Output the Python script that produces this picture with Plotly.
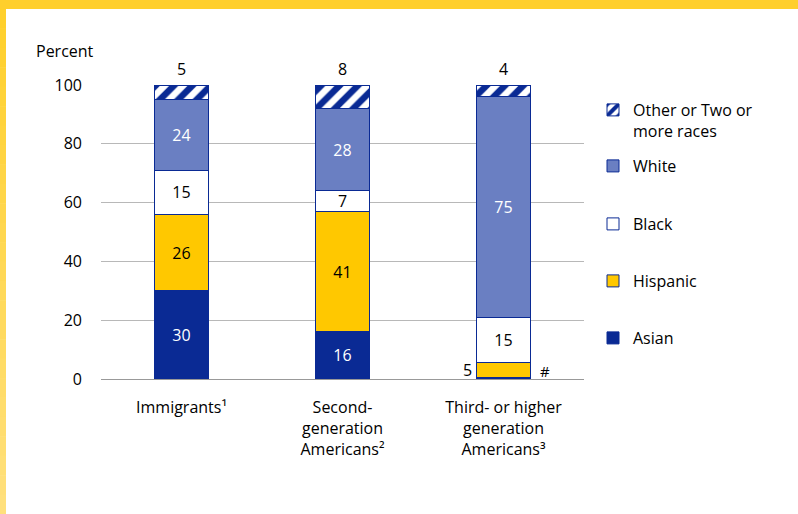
import plotly.graph_objects as go

# ---------------- data ----------------
category_keys = ["Immigrants", "Second", "Third"]
tick_labels = [
    "Immigrants¹",
    "Second-<br>generation<br>Americans²",
    "Third- or higher<br>generation<br>Americans³",
]
series_names = ["Asian", "Hispanic", "Black", "White", "Other or Two or<br>more races"]

asian = [30, 16, 0.4]
hispanic = [26, 41, 5.2]
black = [15, 7, 15.2]
white = [24, 28, 75.4]
other = [5, 8, 3.8]

asian_labels = ["30", "16", "#"]
hispanic_labels = ["26", "41", "5"]
black_labels = ["15", "7", "15"]
white_labels = ["24", "28", "75"]
other_labels = ["5", "8", "4"]

y_ticks = [0, 20, 40, 60, 80, 100]

# ---------------- style ----------------
FONT = "Open Sans"
FS = 16
NAVY = "#0A2A94"
GOLD = "#FFC800"
PERI = "#6A7FC2"
W, H = 798, 514
L, R, T, B = 101, 584, 85, 379


def px_x(p):
    return (p - L) / (R - L)


def px_y(p):
    return (B - p) / (B - T)


fig = go.Figure()

specs = [
    (asian, asian_labels, dict(color=NAVY), "white"),
    (hispanic, hispanic_labels, dict(color=GOLD), "black"),
    (black, black_labels, dict(color="white"), "black"),
    (white, white_labels, dict(color=PERI), "white"),
    (other, other_labels, dict(color="white",
                               pattern=dict(shape="/", fgcolor=NAVY, bgcolor="white",
                                            size=13, solidity=0.5, fillmode="replace")), "black"),
]

legend_ids = ["legend5", "legend4", "legend3", "legend2", "legend"]

for i, (vals, labs, mk, tcol) in enumerate(specs):
    # labels inside the bars except for the thin third-generation slices and the top caps
    positions = []
    for j in range(len(labs)):
        if i == 4 or (j == 2 and i in (0, 1)):
            positions.append("none")
        else:
            positions.append("inside")
    fig.add_trace(go.Bar(
        x=category_keys, y=vals, name=series_names[i],
        text=labs, textposition=positions, insidetextanchor="middle",
        textangle=0, textfont=dict(color=tcol, size=FS, family=FONT),
        marker=dict(line=dict(color=NAVY, width=1), **mk),
        legend=legend_ids[i], hoverinfo="name+y",
    ))

annotations = []
# labels above the bars (Other)
for j, k in enumerate(category_keys):
    annotations.append(dict(x=k, y=100, yanchor="bottom", yshift=3, text=other_labels[j],
                            showarrow=False, font=dict(size=FS, color="black", family=FONT)))
# third-generation thin slices
mid_h = asian[2] + hispanic[2] / 2
annotations.append(dict(x=category_keys[2], y=mid_h, xanchor="right", xshift=-30,
                        text=hispanic_labels[2], showarrow=False,
                        font=dict(size=FS, color="black", family=FONT)))
annotations.append(dict(x=category_keys[2], y=mid_h, xanchor="left", xshift=34, yshift=-1,
                        text=asian_labels[2], showarrow=False,
                        font=dict(size=FS - 1, color="black", family=FONT)))
# axis title
annotations.append(dict(xref="paper", yref="paper", x=px_x(34), y=px_y(51),
                        xanchor="left", yanchor="middle", text="Percent", showarrow=False,
                        font=dict(size=FS, color="black", family=FONT)))

# yellow frame
shapes = [dict(type="rect", xref="paper", yref="paper", x0=px_x(0), x1=px_x(W),
               y0=px_y(0), y1=px_y(9), fillcolor="#FFCF2C", line=dict(width=0), layer="above")]
n = 26
top_c = (0xFF, 0xD0, 0x2C)
bot_c = (0xFF, 0xE0, 0x7C)
for s in range(n):
    t = s / (n - 1)
    c = tuple(round(top_c[q] + (bot_c[q] - top_c[q]) * t) for q in range(3))
    y0 = 9 + (H - 9) * s / n
    y1 = 9 + (H - 9) * (s + 1) / n + 0.5
    shapes.append(dict(type="rect", xref="paper", yref="paper", x0=px_x(0), x1=px_x(6),
                       y0=px_y(y0), y1=px_y(y1), fillcolor="rgb(%d,%d,%d)" % c,
                       line=dict(width=0), layer="above"))
shapes.append(dict(type="rect", xref="paper", yref="paper", x0=px_x(0), x1=px_x(6),
                   y0=px_y(0), y1=px_y(10), fillcolor="#FFCF2C", line=dict(width=0), layer="above"))

legend_y = {"legend": 120.5, "legend2": 166, "legend3": 224, "legend4": 281, "legend5": 338}
legend_layout = {}
for lid, ypx in legend_y.items():
    legend_layout[lid] = dict(x=px_x(593), xanchor="left", y=px_y(ypx), yanchor="middle",
                              bgcolor="rgba(0,0,0,0)", font=dict(size=FS, color="black", family=FONT),
                              valign="top", itemclick=False, itemdoubleclick=False)

fig.update_layout(
    width=W, height=H, barmode="stack", bargap=0.67,
    plot_bgcolor="white", paper_bgcolor="white",
    margin=dict(l=L, r=W - R, t=T, b=H - B, pad=0),
    font=dict(family=FONT, size=FS, color="black"),
    uniformtext=dict(minsize=FS, mode="show"),
    annotations=annotations, shapes=shapes,
    xaxis=dict(type="category", tickvals=category_keys, ticktext=tick_labels,
               showgrid=False, showline=False, ticks="", ticklabelstandoff=17,
               tickfont=dict(size=FS, family=FONT, color="black"), range=[-0.5, 2.5]),
    yaxis=dict(range=[0, 100], tickvals=y_ticks, showgrid=True, gridcolor="#B8B8B8",
               gridwidth=1, zeroline=True, zerolinecolor="#999999", zerolinewidth=1,
               showline=False, ticks="", ticklabelstandoff=18,
               tickfont=dict(size=FS, family=FONT, color="black")),
    showlegend=True,
    **legend_layout,
)

fig.write_html("out.html", config={"displayModeBar": False},
               post_script="document.body.style.margin='0px';")
